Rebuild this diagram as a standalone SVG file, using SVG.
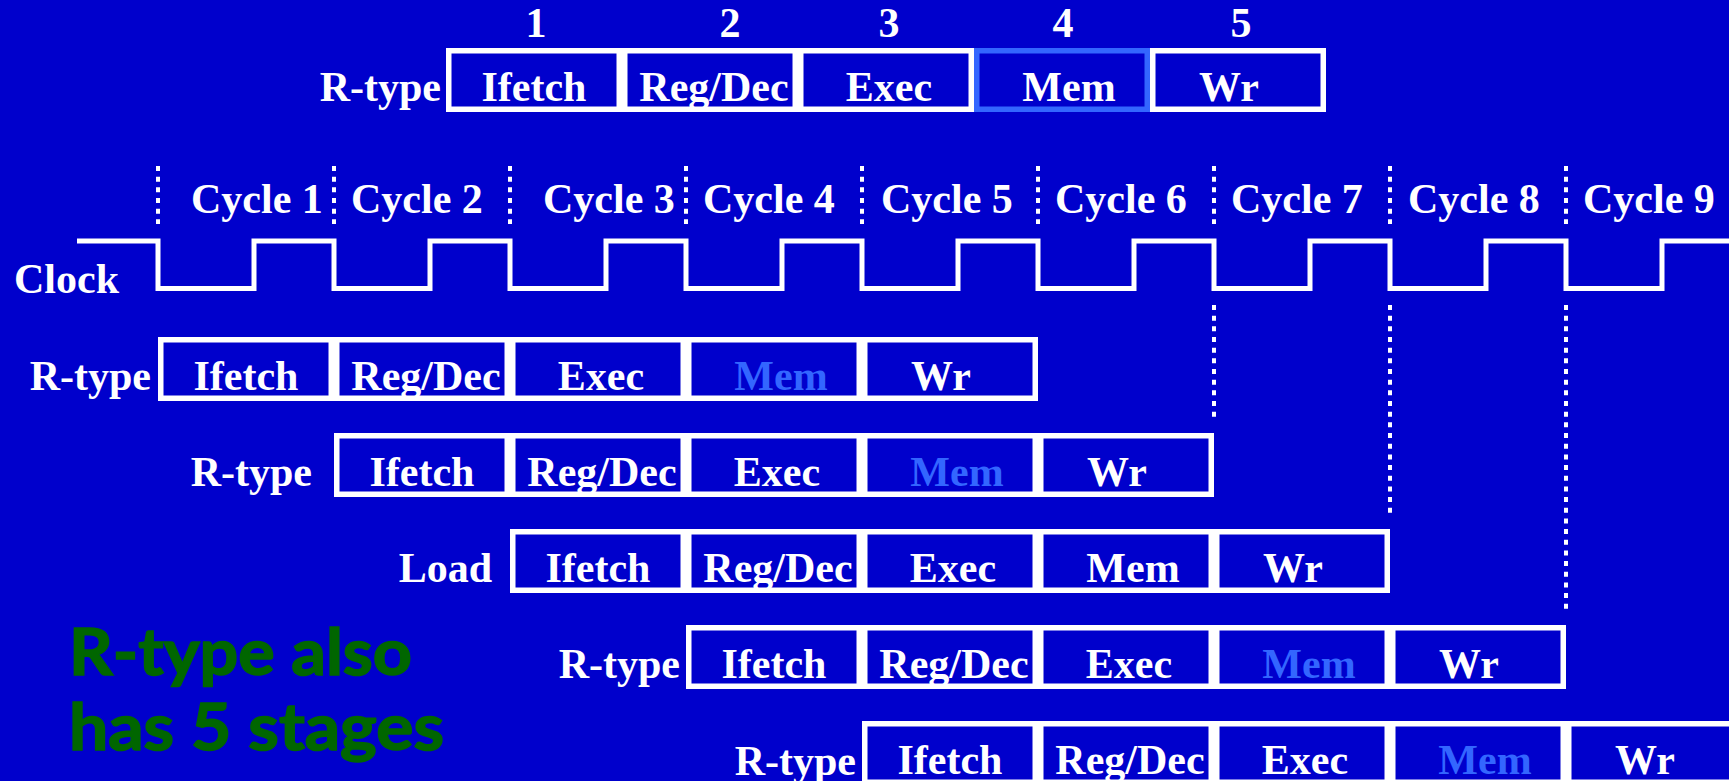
<svg xmlns="http://www.w3.org/2000/svg" width="1729" height="781" viewBox="0 0 1729 781">
  <style>
    .t { font-family: "Liberation Serif", "Times New Roman", serif; font-weight: bold; font-size: 42px; fill: #FFFFFF; }
    .c { text-anchor: middle; }
    .lbl { text-anchor: end; }
    .mem { fill: #3366FF; }
    .cell { fill: #0000CC; stroke: #FFFFFF; stroke-width: 5.5; }
    .cell.hl { stroke: #3366FF; }
    .dots { stroke: #FFFFFF; stroke-width: 4; stroke-dasharray: 5 5.67; fill: none; }
    .clk { fill: none; stroke: #FFFFFF; stroke-width: 5; stroke-linejoin: miter; }
    .note { font-family: "Lato", "DejaVu Sans", sans-serif; font-weight: bold; font-size: 65px; fill: #006600; stroke: #006600; stroke-width: 1.6; }
  </style>

  <rect x="0" y="0" width="1729" height="781" fill="#0000CC"/>

  <!-- single R-type instruction with its five numbered stages -->
  <g id="stage-numbers">
    <text class="t c" x="536" y="37">1</text>
    <text class="t c" x="730" y="37">2</text>
    <text class="t c" x="889" y="37">3</text>
    <text class="t c" x="1063" y="37">4</text>
    <text class="t c" x="1241" y="37">5</text>
  </g>
  <g id="rtype-stages">
    <text class="t lbl" x="441" y="101">R-type</text>
    <g id="top-ifetch"><rect class="cell" x="448.75" y="50.75" width="170.5" height="58.5"/><text class="t c" x="534" y="101">Ifetch</text></g>
    <g id="top-regdec"><rect class="cell" x="624.75" y="50.75" width="170.5" height="58.5"/><text class="t c" x="714" y="101">Reg/Dec</text></g>
    <g id="top-exec"><rect class="cell" x="800.75" y="50.75" width="170.5" height="58.5"/><text class="t c" x="889" y="101">Exec</text></g>
    <g id="top-mem"><rect class="cell hl" x="976.75" y="50.75" width="170.5" height="58.5"/><text class="t c" x="1069" y="101">Mem</text></g>
    <g id="top-wr"><rect class="cell" x="1152.75" y="50.75" width="170.5" height="58.5"/><text class="t c" x="1229" y="101">Wr</text></g>
  </g>

  <!-- cycle labels -->
  <g id="cycle-labels">
    <text class="t" x="191" y="213">Cycle 1</text>
    <text class="t" x="351" y="213">Cycle 2</text>
    <text class="t" x="543" y="213">Cycle 3</text>
    <text class="t" x="703" y="213">Cycle 4</text>
    <text class="t" x="881" y="213">Cycle 5</text>
    <text class="t" x="1055" y="213">Cycle 6</text>
    <text class="t" x="1231" y="213">Cycle 7</text>
    <text class="t" x="1408" y="213">Cycle 8</text>
    <text class="t" x="1583" y="213">Cycle 9</text>
  </g>

  <!-- clock waveform -->
  <g id="clock">
    <text class="t" x="14" y="293">Clock</text>
    <path class="clk" d="M77,241 H158 V288.5 H254 V241 H334 V288.5 H430 V241 H510 V288.5 H606 V241 H686 V288.5 H782 V241 H862 V288.5 H958 V241 H1038 V288.5 H1134 V241 H1214 V288.5 H1310 V241 H1390 V288.5 H1486 V241 H1566 V288.5 H1662 V241 H1729"/>
  </g>

  <!-- dotted cycle boundaries -->
  <g id="connectors">
    <path class="dots" d="M158,166 V224 M334,166 V224 M510,166 V224 M686,166 V224 M862,166 V224 M1038,166 V224 M1214,166 V224 M1390,166 V224 M1566,166 V224"/>
    <path class="dots" d="M1214,305 V417 M1390,305 V513 M1566,305 V609"/>
  </g>

  <!-- pipelined instructions -->
  <g id="instr-1">
    <text class="t lbl" x="151" y="390">R-type</text>
    <rect class="cell" x="160.75" y="339.75" width="170.5" height="58.5"/><text class="t c" x="246" y="390">Ifetch</text>
    <rect class="cell" x="336.75" y="339.75" width="170.5" height="58.5"/><text class="t c" x="426" y="390">Reg/Dec</text>
    <rect class="cell" x="512.75" y="339.75" width="170.5" height="58.5"/><text class="t c" x="601" y="390">Exec</text>
    <rect class="cell" x="688.75" y="339.75" width="170.5" height="58.5"/><text class="t c mem" x="781" y="390">Mem</text>
    <rect class="cell" x="864.75" y="339.75" width="170.5" height="58.5"/><text class="t c" x="941" y="390">Wr</text>
  </g>
  <g id="instr-2">
    <text class="t lbl" x="312" y="486">R-type</text>
    <rect class="cell" x="336.75" y="435.75" width="170.5" height="58.5"/><text class="t c" x="422" y="486">Ifetch</text>
    <rect class="cell" x="512.75" y="435.75" width="170.5" height="58.5"/><text class="t c" x="602" y="486">Reg/Dec</text>
    <rect class="cell" x="688.75" y="435.75" width="170.5" height="58.5"/><text class="t c" x="777" y="486">Exec</text>
    <rect class="cell" x="864.75" y="435.75" width="170.5" height="58.5"/><text class="t c mem" x="957" y="486">Mem</text>
    <rect class="cell" x="1040.75" y="435.75" width="170.5" height="58.5"/><text class="t c" x="1117" y="486">Wr</text>
  </g>
  <g id="instr-3">
    <text class="t lbl" x="492" y="582">Load</text>
    <rect class="cell" x="512.75" y="531.75" width="170.5" height="58.5"/><text class="t c" x="598" y="582">Ifetch</text>
    <rect class="cell" x="688.75" y="531.75" width="170.5" height="58.5"/><text class="t c" x="778" y="582">Reg/Dec</text>
    <rect class="cell" x="864.75" y="531.75" width="170.5" height="58.5"/><text class="t c" x="953" y="582">Exec</text>
    <rect class="cell" x="1040.75" y="531.75" width="170.5" height="58.5"/><text class="t c" x="1133" y="582">Mem</text>
    <rect class="cell" x="1216.75" y="531.75" width="170.5" height="58.5"/><text class="t c" x="1293" y="582">Wr</text>
  </g>
  <g id="instr-4">
    <text class="t lbl" x="680" y="678">R-type</text>
    <rect class="cell" x="688.75" y="627.75" width="170.5" height="58.5"/><text class="t c" x="774" y="678">Ifetch</text>
    <rect class="cell" x="864.75" y="627.75" width="170.5" height="58.5"/><text class="t c" x="954" y="678">Reg/Dec</text>
    <rect class="cell" x="1040.75" y="627.75" width="170.5" height="58.5"/><text class="t c" x="1129" y="678">Exec</text>
    <rect class="cell" x="1216.75" y="627.75" width="170.5" height="58.5"/><text class="t c mem" x="1309" y="678">Mem</text>
    <rect class="cell" x="1392.75" y="627.75" width="170.5" height="58.5"/><text class="t c" x="1469" y="678">Wr</text>
  </g>
  <g id="instr-5">
    <text class="t lbl" x="856" y="775">R-type</text>
    <rect class="cell" x="864.75" y="723.75" width="170.5" height="58.5"/><text class="t c" x="950" y="774">Ifetch</text>
    <rect class="cell" x="1040.75" y="723.75" width="170.5" height="58.5"/><text class="t c" x="1130" y="774">Reg/Dec</text>
    <rect class="cell" x="1216.75" y="723.75" width="170.5" height="58.5"/><text class="t c" x="1305" y="774">Exec</text>
    <rect class="cell" x="1392.75" y="723.75" width="170.5" height="58.5"/><text class="t c mem" x="1485" y="774">Mem</text>
    <rect class="cell" x="1568.75" y="723.75" width="170.5" height="58.5"/><text class="t c" x="1645" y="774">Wr</text>
  </g>

  <!-- side note -->
  <g id="note">
    <text class="note" x="69" y="675" textLength="343" lengthAdjust="spacingAndGlyphs">R-type also</text>
    <text class="note" x="69" y="750" textLength="375" lengthAdjust="spacingAndGlyphs">has 5 stages</text>
  </g>
</svg>
